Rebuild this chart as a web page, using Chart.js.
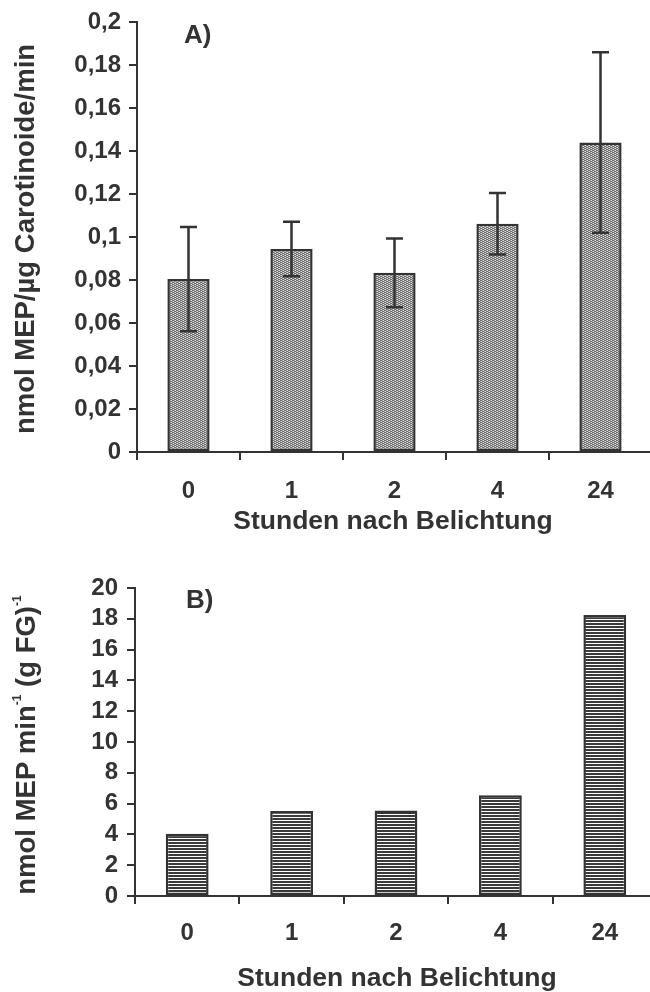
<!DOCTYPE html>
<html><head><meta charset="utf-8">
<script src="https://cdn.jsdelivr.net/npm/chart.js@4.4.1/dist/chart.umd.min.js"></script>
<style>
html,body{margin:0;padding:0;overflow:hidden;background:#fff;width:650px;height:992px;}
#wrapA{position:absolute;left:0;top:0;width:660px;height:545px;}
#wrapB{position:absolute;left:0;top:545px;width:660px;height:447px;}
</style></head><body>
<div id="wrapA"><canvas id="cA" width="660" height="545"></canvas></div>
<div id="wrapB"><canvas id="cB" width="660" height="447"></canvas></div>
<script>
// ---- data ----
const hours = ['0', '1', '2', '4', '24'];
const rateA = [0.0805, 0.0945, 0.0834, 0.1063, 0.1441];
const errA  = [0.0243, 0.0127, 0.0160, 0.0143, 0.0420];
const rateB = [4.05, 5.52, 5.55, 6.55, 18.25];
const ticksA = ['0', '0,02', '0,04', '0,06', '0,08', '0,1', '0,12', '0,14', '0,16', '0,18', '0,2'];
const ticksB = ['0', '2', '4', '6', '8', '10', '12', '14', '16', '18', '20'];
const xTitle = 'Stunden nach Belichtung';
const yTitleA = 'nmol MEP/µg Carotinoide/min';
const yTitleBParts = [['nmol MEP min', false], ['-1', true], [' (g FG)', false], ['-1', true]];

const FONT = '"Liberation Sans", Arial, Helvetica, sans-serif';
const INK = '#333333';

function patternA(ctx) {
  const c = document.createElement('canvas'); c.width = 4; c.height = 4;
  const g = c.getContext('2d');
  g.fillStyle = '#e2e2e2'; g.fillRect(0, 0, 4, 4);
  g.fillStyle = '#6c6c6c';
  const dark = [[0,0],[1,0],[2,1],[3,1],[0,2],[1,2],[2,3],[3,3]];
  dark.forEach(([x, y]) => g.fillRect(x, y, 1, 1));
  g.fillStyle = '#a8a8a8';
  [[2,0],[0,1],[2,2],[0,3]].forEach(([x, y]) => g.fillRect(x, y, 1, 1));
  return ctx.createPattern(c, 'repeat');
}
function patternB(ctx) {
  const c = document.createElement('canvas'); c.width = 4; c.height = 3;
  const g = c.getContext('2d');
  g.fillStyle = '#3a3a3a'; g.fillRect(0, 0, 4, 3);
  g.fillStyle = '#ffffff'; g.fillRect(0, 2, 4, 1);
  return ctx.createPattern(c, 'repeat');
}

function axisOpts(extra) {
  return Object.assign({
    grid: { display: true, drawOnChartArea: false, drawTicks: true, tickLength: 8, color: INK, lineWidth: 2 },
    border: { display: true, color: INK, width: 2 },
  }, extra);
}

const errorBars = {
  id: 'errorBars',
  afterDatasetsDraw(chart, args, opts) {
    if (!opts.errors) return;
    const ctx = chart.ctx, meta = chart.getDatasetMeta(0), ys = chart.scales.y;
    const vals = chart.data.datasets[0].data;
    ctx.save();
    ctx.strokeStyle = INK; ctx.lineWidth = 2.5;
    meta.data.forEach((bar, i) => {
      const e = opts.errors[i];
      const yt = ys.getPixelForValue(vals[i] + e), yb = ys.getPixelForValue(vals[i] - e);
      ctx.beginPath();
      ctx.moveTo(bar.x, yt); ctx.lineTo(bar.x, yb);
      ctx.moveTo(bar.x - 8.5, yt); ctx.lineTo(bar.x + 8.5, yt);
      ctx.moveTo(bar.x - 8.5, yb); ctx.lineTo(bar.x + 8.5, yb);
      ctx.stroke();
    });
    ctx.restore();
  }
};

const texts = {
  id: 'texts',
  afterDraw(chart, args, opts) {
    const ctx = chart.ctx;
    ctx.save();
    ctx.fillStyle = INK;
    ctx.font = 'bold 26px ' + FONT;
    ctx.textAlign = 'left'; ctx.textBaseline = 'alphabetic';
    ctx.fillText(opts.panel, opts.panelX, opts.panelY);
    ctx.font = 'bold 26.5px ' + FONT;
    ctx.textAlign = 'center';
    ctx.fillText(xTitle, opts.xtX, opts.xtY);
    ctx.translate(opts.ytX, opts.ytY);
    ctx.rotate(-Math.PI / 2);
    const big = 'bold 27.5px ' + FONT, small = 'bold 12px ' + FONT;
    if (opts.yParts) {
      let total = 0;
      opts.yParts.forEach(([t, sup]) => { ctx.font = sup ? small : big; total += ctx.measureText(t).width; });
      let x = -total / 2;
      ctx.textAlign = 'left';
      opts.yParts.forEach(([t, sup]) => {
        ctx.font = sup ? small : big;
        ctx.fillText(t, x, sup ? -4 : 9.5);
        x += ctx.measureText(t).width;
      });
    } else {
      ctx.font = big; ctx.textAlign = 'center';
      ctx.fillText(opts.yText, 0, 9.5);
    }
    ctx.restore();
  }
};

const tickFont = { family: FONT, size: 24, weight: 'bold' };

// ---- chart A ----
const ctxA = document.getElementById('cA').getContext('2d');
new Chart(ctxA, {
  type: 'bar',
  data: { labels: hours, datasets: [{ data: rateA, backgroundColor: patternA(ctxA), borderColor: INK, borderWidth: 2.5, borderSkipped: false, barPercentage: 0.41, categoryPercentage: 1 }] },
  options: {
    responsive: false, animation: false, devicePixelRatio: 1,
    layout: { padding: { top: 19, right: 8, left: 0, bottom: 0 } },
    plugins: {
      legend: { display: false }, tooltip: { enabled: false },
      errorBars: { errors: errA },
      texts: { panel: 'A)', panelX: 184, panelY: 43, xtX: 393, xtY: 529, ytX: 24, ytY: 239, yText: yTitleA }
    },
    scales: {
      x: axisOpts({ ticks: { font: tickFont, color: INK, padding: 17, maxRotation: 0, autoSkip: false }, afterFit(s) { s.height = 93; } }),
      y: axisOpts({ min: 0, max: 0.2, ticks: { stepSize: 0.02, autoSkip: false, font: tickFont, color: INK, padding: 8, callback: (v, i) => ticksA[i] }, afterFit(s) { s.width = 137; } })
    }
  },
  plugins: [errorBars, texts]
});

// ---- chart B ----
const ctxB = document.getElementById('cB').getContext('2d');
new Chart(ctxB, {
  type: 'bar',
  data: { labels: hours, datasets: [{ data: rateB, backgroundColor: patternB(ctxB), borderColor: INK, borderWidth: 2.5, borderSkipped: false, barPercentage: 0.41, categoryPercentage: 1 }] },
  options: {
    responsive: false, animation: false, devicePixelRatio: 1,
    layout: { padding: { top: 43, right: 3, left: 0, bottom: 0 } },
    plugins: {
      legend: { display: false }, tooltip: { enabled: false },
      texts: { panel: 'B)', panelX: 186, panelY: 63, xtX: 397, xtY: 441, ytX: 25, ytY: 200, yParts: yTitleBParts }
    },
    scales: {
      x: axisOpts({ ticks: { font: tickFont, color: INK, padding: 15, maxRotation: 0, autoSkip: false }, afterFit(s) { s.height = 96; } }),
      y: axisOpts({ min: 0, max: 20, ticks: { stepSize: 2, autoSkip: false, font: tickFont, color: INK, padding: 9, callback: (v, i) => ticksB[i] }, afterFit(s) { s.width = 135; } })
    }
  },
  plugins: [texts]
});
</script>
</body></html>
